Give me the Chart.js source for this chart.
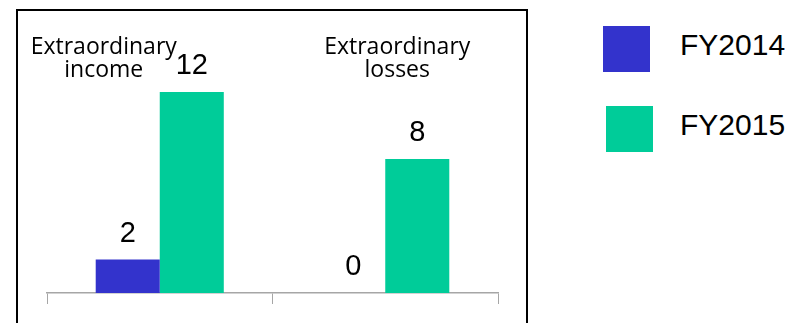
<!DOCTYPE html>
<html>
<head>
<meta charset="utf-8">
<script src="https://cdn.jsdelivr.net/npm/chart.js@4/dist/chart.umd.min.js"></script>
<style>
  body { margin:0; width:794px; height:323px; overflow:hidden; background:#fff; position:relative; }
  #box { position:absolute; left:16px; top:9px; width:508px; height:320px; border:2px solid #000; }
  #legend { position:absolute; left:603px; top:26px; font-family:"Liberation Sans", Arial, sans-serif; font-size:30px; line-height:30px; color:#000; }
  .item { position:absolute; }
  .sw { position:absolute; width:47px; height:46px; }
  .tx { position:absolute; left:77px; top:3.6px; white-space:nowrap; }
</style>
</head>
<body>
<div id="box"><canvas id="c"></canvas></div>
<div id="legend"></div>
<script>
let categories = [["Extraordinary","income"],["Extraordinary","losses"]];
let seriesNames = ["FY2014","FY2015"];
let fy2014 = [2, 0];
let fy2015 = [12, 8];
let colors = ["#3333cc","#00cc99"];

// text boxes of the category names sit off-centre in the original
let catShift = [-56, 12];

let labelPlugin = {
  id:"labels",
  afterDatasetsDraw(chart){
    let ctx = chart.ctx;
    ctx.save();
    ctx.fillStyle = "#000";
    ctx.textAlign = "center";
    ctx.textBaseline = "alphabetic";
    ctx.font = '29px "Liberation Sans", Arial, sans-serif';
    chart.data.datasets.forEach((ds,i)=>{
      chart.getDatasetMeta(i).data.forEach((bar,j)=>{
        ctx.fillText(ds.data[j], bar.x, bar.y - 18);
      });
    });
    ctx.font = '23px "Open Sans", sans-serif';
    let xs = chart.scales.x;
    categories.forEach((lines,j)=>{
      lines.forEach((l,k)=>{
        ctx.fillText(l, xs.getPixelForValue(j) + catShift[j], 43 + 23*k);
      });
    });
    ctx.restore();
  }
};

let ctx = document.getElementById("c").getContext("2d");
let chart = new Chart(ctx,{
  type:"bar",
  data:{
    labels:categories,
    datasets:[
      {label:seriesNames[0],data:fy2014,backgroundColor:colors[0]},
      {label:seriesNames[1],data:fy2015,backgroundColor:colors[1]}
    ]
  },
  options:{
    responsive:true,
    maintainAspectRatio:false,
    animation:false,
    events:[],
    layout:{padding:{left:29,right:28,top:14,bottom:27}},
    datasets:{bar:{categoryPercentage:0.568,barPercentage:1.0}},
    plugins:{legend:{display:false},tooltip:{enabled:false}},
    scales:{
      x:{
        grid:{offset:true,drawOnChartArea:false,drawTicks:true,tickLength:11,color:"#a6a6a6"},
        border:{color:"#a6a6a6",width:1.5},
        ticks:{display:false}
      },
      y:{display:false,min:0,max:16}
    }
  },
  plugins:[labelPlugin]
});

let lg = document.getElementById("legend");
let legendShift = [0, 3];
seriesNames.forEach((n,i)=>{
  let it = document.createElement("div");
  it.className = "item";
  it.style.top = (i*80) + "px";
  it.style.left = legendShift[i] + "px";
  it.innerHTML = '<div class="sw" style="background:'+colors[i]+'"></div><div class="tx" style="left:'+(77-legendShift[i])+'px">'+n+'</div>';
  lg.appendChild(it);
});
</script>
</body>
</html>
